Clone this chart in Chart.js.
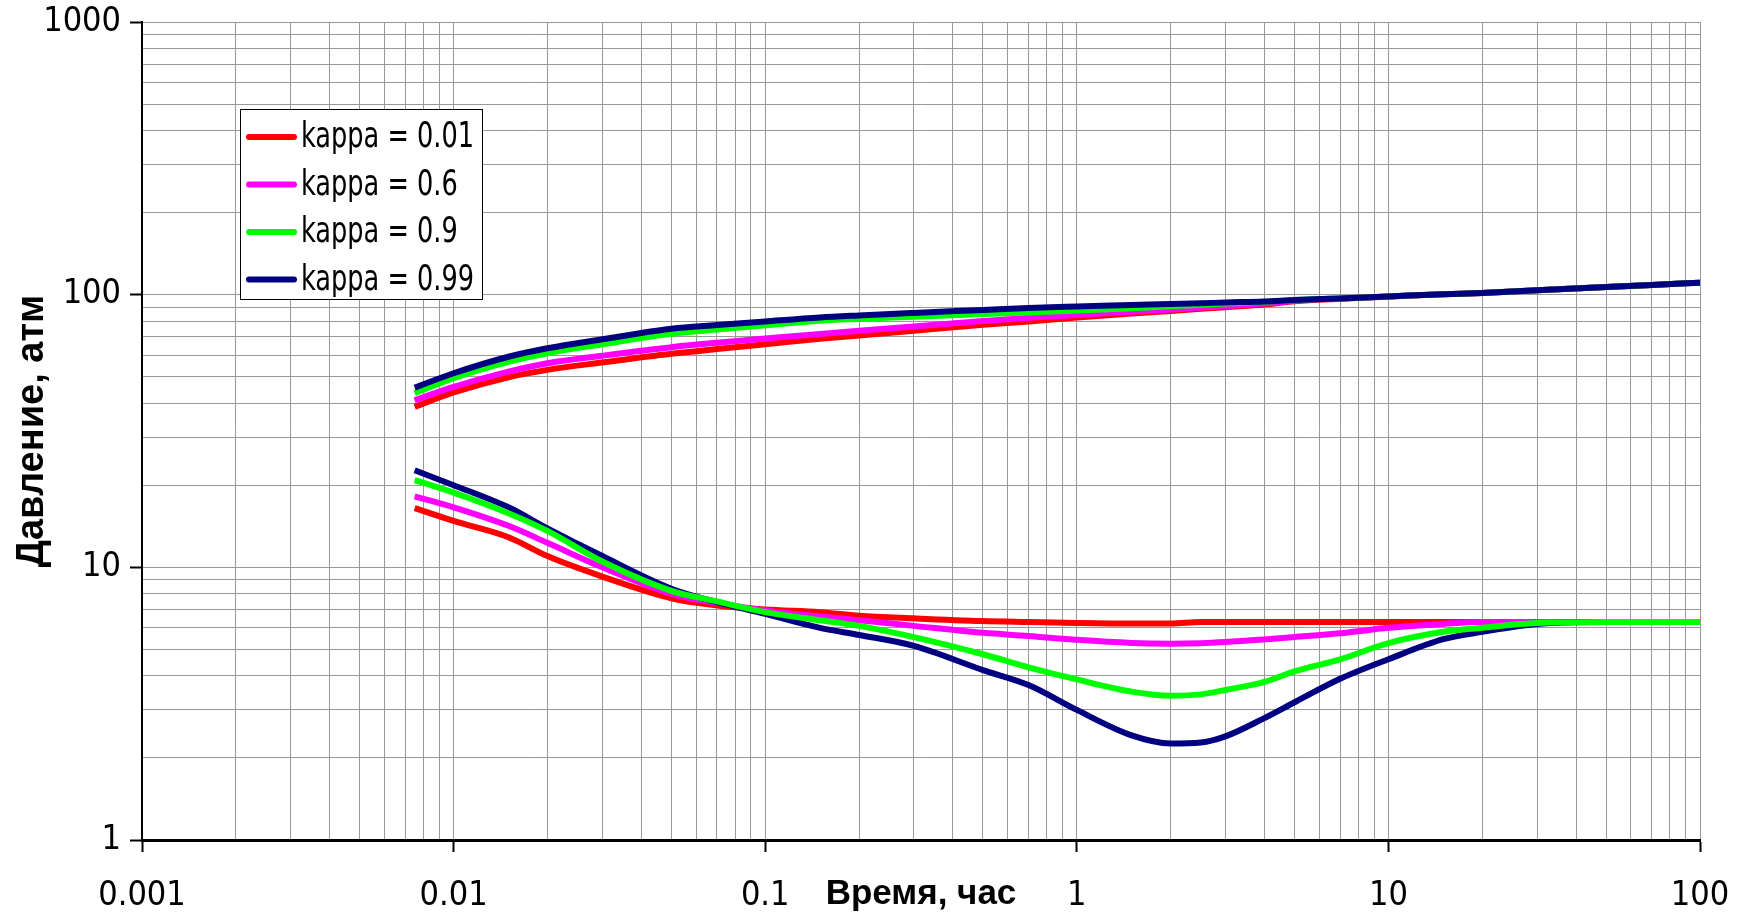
<!DOCTYPE html>
<html lang="ru">
<head>
<meta charset="utf-8">
<title>Давление, атм</title>
<script src="https://cdn.jsdelivr.net/npm/chart.js@4.4.1/dist/chart.umd.min.js"></script>
<style>
  html, body { margin: 0; padding: 0; background: #fff; }
  #grafica { display: block; }
</style>
</head>
<body>
<canvas id="grafica" width="1748" height="916"></canvas>
<script>
// время, час (общая ось для всех кривых)
const vremya = [0.0075, 0.01, 0.015, 0.02, 0.03, 0.05, 0.07, 0.1, 0.15, 0.2, 0.3, 0.5, 0.7, 1, 1.5, 2, 2.5, 3, 4, 5, 7, 10, 15, 20, 30, 50, 70, 100];

const kappaLabels = ['kappa = 0.01', 'kappa = 0.6', 'kappa = 0.9', 'kappa = 0.99'];
const colores = ['#ff0000', '#ff00ff', '#00ff00', '#000080'];

// верхние кривые, атм
const verh001 = [38.8, 43.8, 49.8, 53.0, 56.4, 60.7, 63.2, 65.8, 68.9, 70.9, 73.8, 77.6, 79.8, 82.5, 85.3, 87.2, 88.7, 90.0, 92.0, 94.5, 96.6, 98.5, 100.4, 101.5, 103.8, 106.7, 108.6, 110.6];
const verh06 = [41.0, 45.9, 52.2, 56.0, 59.7, 64.2, 66.6, 69.0, 71.8, 73.7, 76.5, 80.0, 82.3, 84.2, 86.6, 88.3, 89.7, 90.9, 92.8, 95.0, 96.9, 98.5, 100.4, 101.5, 103.8, 106.7, 108.6, 110.6];
const verh09 = [43.5, 49.4, 56.7, 61.0, 65.8, 71.9, 74.5, 77.2, 80.3, 81.5, 83.0, 84.9, 86.1, 87.5, 89.2, 90.6, 91.8, 92.8, 94.2, 95.5, 96.9, 98.5, 100.4, 101.5, 103.8, 106.7, 108.6, 110.6];
const verh099 = [45.6, 51.5, 59.2, 63.6, 68.6, 75.0, 77.4, 79.8, 82.5, 83.9, 85.7, 87.9, 89.4, 90.5, 91.6, 92.4, 93.0, 93.6, 94.4, 95.5, 96.9, 98.5, 100.4, 101.5, 103.8, 106.7, 108.6, 110.6];

// нижние кривые, атм
const niz001 = [16.5, 14.8, 12.9, 11.0, 9.25, 7.7, 7.25, 7.0, 6.85, 6.65, 6.5, 6.35, 6.3, 6.25, 6.22, 6.22, 6.3, 6.3, 6.3, 6.3, 6.3, 6.3, 6.3, 6.3, 6.3, 6.3, 6.3, 6.3];
const niz06 = [18.2, 16.6, 14.2, 12.3, 10.0, 8.0, 7.4, 6.95, 6.6, 6.4, 6.1, 5.75, 5.6, 5.42, 5.28, 5.25, 5.27, 5.32, 5.44, 5.55, 5.73, 6.0, 6.2, 6.3, 6.3, 6.3, 6.3, 6.3];
const niz09 = [20.9, 18.8, 15.8, 13.6, 10.5, 8.2, 7.5, 6.85, 6.4, 6.1, 5.55, 4.8, 4.3, 3.88, 3.5, 3.38, 3.42, 3.55, 3.8, 4.15, 4.6, 5.27, 5.8, 6.0, 6.25, 6.3, 6.3, 6.3];
const niz099 = [22.7, 20.0, 16.6, 13.9, 11.0, 8.35, 7.45, 6.75, 6.0, 5.65, 5.15, 4.2, 3.7, 3.0, 2.42, 2.26, 2.28, 2.4, 2.8, 3.2, 3.9, 4.6, 5.45, 5.8, 6.2, 6.3, 6.3, 6.3];

const xTickLabels = ['0.001', '0.01', '0.1', '1', '10', '100'];
const yTickLabels = ['1', '10', '100', '1000'];

const FUENTE = '"Liberation Sans Narrow", "DejaVu Sans Condensed", sans-serif';
const FUENTE_B = '"Liberation Sans", Arial, sans-serif';

function puntos(valores) {
    return vremya.map((t, i) => ({ x: t, y: valores[i] }));
}

function esDecada(v) {
    const l = Math.log10(v);
    return Math.abs(l - Math.round(l)) < 1e-6;
}

// 1,2,...,9 в каждой декаде + верхняя граница
function marcas(desde, hasta) {
    const ticks = [];
    for (let e = desde; e < hasta; e++) {
        for (let m = 1; m < 10; m++) ticks.push({ value: m * Math.pow(10, e) });
    }
    ticks.push({ value: Math.pow(10, hasta) });
    return ticks;
}

const verh = [verh001, verh06, verh09, verh099];
const niz = [niz001, niz06, niz09, niz099];
const ordenVerh = [4, 3, 2, 1];
const ordenNiz = [4, 3, 1, 2];

const datasets = [];
verh.forEach((serie, i) => {
    datasets.push({
        label: kappaLabels[i],
        data: puntos(serie),
        borderColor: colores[i],
        borderWidth: 6,
        pointRadius: 0,
        cubicInterpolationMode: 'monotone',
        order: ordenVerh[i]
    });
});
niz.forEach((serie, i) => {
    datasets.push({
        label: kappaLabels[i],
        data: puntos(serie),
        borderColor: colores[i],
        borderWidth: 6,
        pointRadius: 0,
        cubicInterpolationMode: 'monotone',
        order: ordenNiz[i]
    });
});

// легенда внутри области графика, в рамке
const leyenda = {
    id: 'leyenda',
    afterDatasetsDraw(chart) {
        const ctx = chart.ctx;
        const a = chart.chartArea;
        const x0 = a.left + 98, y0 = a.top + 87, w = 242, h = 190;
        ctx.save();
        ctx.fillStyle = '#fff';
        ctx.fillRect(x0, y0, w, h);
        ctx.strokeStyle = '#000';
        ctx.lineWidth = 1;
        ctx.strokeRect(x0 + 0.5, y0 + 0.5, w, h);
        ctx.font = '36px ' + FUENTE;
        ctx.textBaseline = 'middle';
        ctx.textAlign = 'left';
        // сжатие текста по ширине, как в оригинале
        const k = 173 / ctx.measureText(kappaLabels[0]).width;
        kappaLabels.forEach((txt, i) => {
            const y = y0 + 28 + i * 47.5;
            ctx.strokeStyle = colores[i];
            ctx.lineWidth = 6;
            ctx.lineCap = 'round';
            ctx.beginPath();
            ctx.moveTo(x0 + 9, y);
            ctx.lineTo(x0 + 54, y);
            ctx.stroke();
            ctx.fillStyle = '#000';
            ctx.fillText(txt, x0 + 61, y + 1, ctx.measureText(txt).width * k);
        });
        ctx.restore();
    }
};

const gridComun = {
    color: '#999',
    lineWidth: 1,
    drawTicks: true,
    tickLength: 12,
    tickWidth: 2,
    tickColor: c => (c.tick && esDecada(c.tick.value)) ? '#000' : 'rgba(0,0,0,0)'
};

const graph = document.getElementById('grafica');
const Grafico = new Chart(graph, {
    type: 'line',
    data: { datasets: datasets },
    options: {
        responsive: false,
        animation: false,
        devicePixelRatio: 1,
        layout: { padding: { top: 22, right: 48, left: 0, bottom: 0 } },
        plugins: {
            legend: { display: false },
            tooltip: { enabled: false }
        },
        scales: {
            x: {
                type: 'logarithmic',
                position: 'bottom',
                min: 0.001,
                max: 100,
                afterBuildTicks: s => { s.ticks = marcas(-3, 2); },
                afterFit: s => { s.height = 76; s.paddingLeft = 0; s.paddingRight = 0; },
                ticks: {
                    autoSkip: false,
                    maxRotation: 0,
                    minRotation: 0,
                    padding: 24,
                    color: '#000',
                    font: { family: FUENTE, size: 34 },
                    callback: v => esDecada(v) ? xTickLabels[Math.round(Math.log10(v)) + 3] : ''
                },
                grid: gridComun,
                border: { color: '#000', width: 3 },
                title: {
                    display: true,
                    text: 'Время, час',
                    color: '#000',
                    font: { family: FUENTE_B, size: 35, weight: 'bold' },
                    padding: { top: 0, bottom: 1 }
                }
            },
            y: {
                type: 'logarithmic',
                min: 1,
                max: 1000,
                afterBuildTicks: s => { s.ticks = marcas(0, 3); },
                afterFit: s => { s.width = 142; s.paddingTop = 0; s.paddingBottom = 0; },
                ticks: {
                    autoSkip: false,
                    padding: 9,
                    color: '#000',
                    font: { family: FUENTE, size: 34 },
                    callback: v => esDecada(v) ? yTickLabels[Math.round(Math.log10(v))] : ''
                },
                grid: gridComun,
                border: { color: '#000', width: 2 },
                title: {
                    display: true,
                    text: 'Давление, атм',
                    color: '#000',
                    font: { family: FUENTE_B, size: 38, weight: 'bold' },
                    padding: { top: 10, bottom: 0 }
                }
            }
        }
    },
    plugins: [leyenda]
});
</script>
</body>
</html>
